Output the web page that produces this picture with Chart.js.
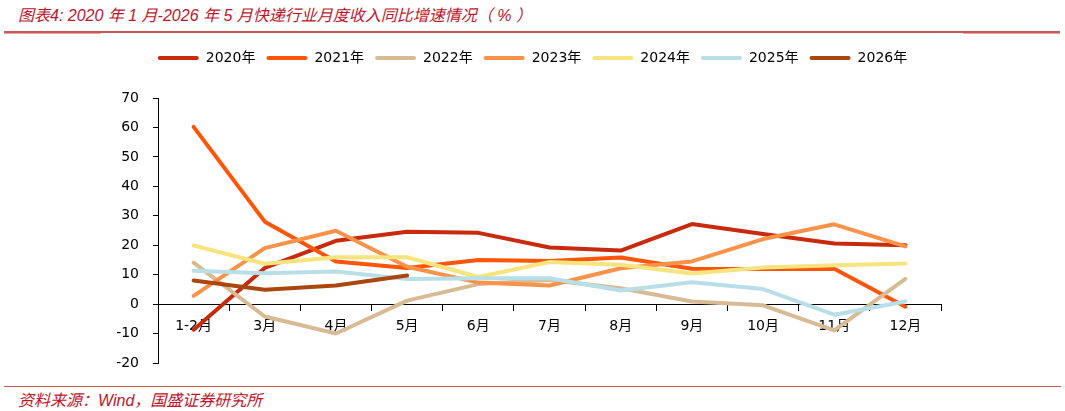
<!DOCTYPE html>
<html>
<head>
<meta charset="utf-8">
<script src="https://cdn.jsdelivr.net/npm/chart.js@4/dist/chart.umd.min.js"></script>
<style>
  html, body { margin: 0; padding: 0; background: #fff; }
  #wrap { position: relative; width: 1065px; height: 411px; overflow: hidden; }
  #chart { position: absolute; left: 0; top: 0; }
  .title { position: absolute; left: 18px; top: 2px; font-family: "Liberation Sans", "Noto Sans CJK SC", sans-serif; font-style: italic; font-size: 16px; color: #C0142C; white-space: nowrap; }
  .foot { position: absolute; left: 18px; top: 387px; font-family: "Liberation Sans", "Noto Sans CJK SC", sans-serif; font-style: italic; font-size: 16px; color: #C0142C; white-space: nowrap; }
  .rule { position: absolute; background: #C9585A; }
  .rule2 { position: absolute; background: #E9A3A4; }
</style>
</head>
<body>
<div id="wrap">
  <div class="title">图表4: 2020 年 1 月-2026 年 5 月快递行业月度收入同比增速情况（ % ）</div>
  <div class="rule" style="left:4px; top:31px; width:1056px; height:1.5px;"></div>
  <div class="rule2" style="left:4px; top:32.5px; width:97px; height:1.5px;"></div>
  <div class="rule2" style="left:963px; top:32.5px; width:97px; height:1.5px;"></div>
  <div class="rule" style="left:4px; top:385.5px; width:1057px; height:1.5px;"></div>
  <div class="foot">资料来源：Wind，国盛证券研究所</div>
  <canvas id="chart" width="1065" height="411"></canvas>
</div>
<script>
const categories = ['1-2月','3月','4月','5月','6月','7月','8月','9月','10月','11月','12月'];
const seriesNames = ['2020年','2021年','2022年','2023年','2024年','2025年','2026年'];
const v2020 = [-8.7, 12.3, 21.5, 24.6, 24.2, 19.2, 18.2, 27.2, 23.8, 20.6, 20.0];
const v2021 = [60.2, 28.0, 14.5, 12.3, 15.0, 14.6, 15.8, 12.0, 11.9, 12.0, -0.9];
const v2022 = [14.1, -4.2, -10.0, 1.2, 6.8, 8.2, 5.4, 0.9, -0.4, -8.9, 8.6];
const v2023 = [2.8, 19.0, 24.9, 12.7, 7.3, 6.3, 12.2, 14.5, 22.1, 27.1, 19.6];
const v2024 = [19.9, 13.7, 15.9, 15.9, 9.2, 14.3, 13.4, 10.4, 12.4, 13.2, 13.8];
const v2025 = [11.3, 10.5, 11.1, 8.5, 8.8, 8.8, 4.6, 7.4, 5.1, -3.6, 0.9];
const v2026 = [8.0, 4.9, 6.3, 9.7];
const yTicks = [-20, -10, 0, 10, 20, 30, 40, 50, 60, 70];
const colors = ['#C72A0C', '#FF5508', '#D8BB95', '#F9934A', '#F6E47E', '#B8DEE8', '#A9470F'];

const allValues = [v2020, v2021, v2022, v2023, v2024, v2025, v2026];
const datasets = allValues.map((vals, i) => ({
  label: seriesNames[i],
  data: vals,
  xAxisID: 'x',
  yAxisID: 'y',
  borderColor: colors[i],
  backgroundColor: colors[i],
  borderWidth: 4,
  pointRadius: 0,
  pointHoverRadius: 0,
  tension: 0,
  fill: false,
  borderCapStyle: 'round',
  borderJoinStyle: 'round',
  order: -i
}));

const font = { family: '"DejaVu Sans", "Noto Sans CJK SC", sans-serif', size: 14 };

new Chart(document.getElementById('chart'), {
  type: 'line',
  data: { labels: categories, datasets },
  options: {
    responsive: false,
    animation: false,
    layout: { padding: { left: 0, right: 0, top: 40, bottom: 48 } },
    plugins: {
      tooltip: { enabled: false },
      legend: {
        position: 'top',
        labels: {
          font: font,
          color: '#000',
          boxWidth: 41,
          boxHeight: 4,
          padding: 11,
          useBorderRadius: true,
          borderRadius: 2,
          sort: (a, b) => a.datasetIndex - b.datasetIndex,
          generateLabels: (chart) => chart.data.datasets.map((ds, i) => ({
            text: ds.label,
            fillStyle: ds.borderColor,
            strokeStyle: ds.borderColor,
            lineWidth: 0,
            fontColor: '#000',
            hidden: false,
            datasetIndex: i,
            borderRadius: 2
          }))
        }
      }
    },
    scales: {
      x: {
        type: 'category',
        position: { y: 0 },
        offset: true,
        grid: { display: true, drawOnChartArea: false, drawTicks: true, tickLength: 6, offset: true, color: '#000', lineWidth: 1 },
        border: { display: true, color: '#000', width: 1 },
        ticks: { font: font, color: '#000', padding: 8, maxRotation: 0, autoSkip: false }
      },
      y: {
        min: -20,
        max: 70,
        afterBuildTicks: (s) => { s.ticks = yTicks.map(v => ({ value: v })); },
        grid: { display: true, drawOnChartArea: false, drawTicks: true, tickLength: 5, color: '#000', lineWidth: 1 },
        border: { display: true, color: '#000', width: 1 },
        ticks: { font: font, color: '#000', padding: 14 },
        afterFit: (s) => { s.width = 158; }
      },
      spacer: {
        type: 'category',
        position: 'top',
        labels: categories,
        grid: { display: false, drawTicks: false },
        border: { display: false },
        ticks: { display: false },
        afterFit: (s) => { s.height = 23; }
      },
      spacerRight: {
        type: 'linear',
        position: 'right',
        min: 0,
        max: 1,
        grid: { display: false, drawTicks: false },
        border: { display: false },
        ticks: { display: false },
        afterFit: (s) => { s.width = 124; }
      }
    }
  }
});
</script>
</body>
</html>
